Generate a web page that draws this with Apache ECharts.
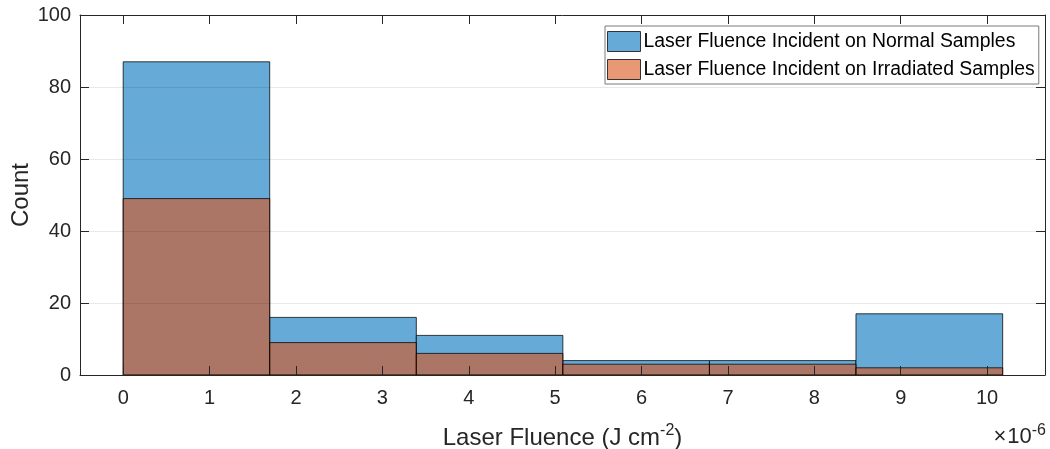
<!DOCTYPE html>
<html>
<head>
<meta charset="utf-8">
<script src="https://cdn.jsdelivr.net/npm/echarts@6/dist/echarts.min.js"></script>
<style>
html,body{margin:0;padding:0;background:#fff;}
#chart{width:1050px;height:449px;}
</style>
</head>
<body>
<div id="chart"></div>
<script>
// Bin edges in units of 1e-6 J cm^-2
const binEdges = [0, 1.696, 3.393, 5.089, 6.786, 8.482, 10.18];
const normalCounts = [87, 16, 11, 4, 4, 17];
const irradiatedCounts = [49, 9, 6, 3, 3, 2];
const xTickValues = [0, 1, 2, 3, 4, 5, 6, 7, 8, 9, 10];
const yTickValues = [0, 20, 40, 60, 80, 100];
const seriesNames = ['Laser Fluence Incident on Normal Samples', 'Laser Fluence Incident on Irradiated Samples'];

function toData(counts) {
  return counts.map((c, i) => [binEdges[i], binEdges[i + 1], c]);
}

function makeRender(fill) {
  return function (params, api) {
    const p0 = api.coord([api.value(0), 0]);
    const p1 = api.coord([api.value(1), api.value(2)]);
    return {
      type: 'rect',
      shape: { x: p0[0], y: p1[1], width: p1[0] - p0[0], height: p0[1] - p1[1] },
      style: { fill: fill, stroke: 'rgba(0,0,0,0.75)', lineWidth: 1 }
    };
  };
}

const axisColor = '#262626';
const fontFamily = 'Liberation Sans, Arial, Helvetica, sans-serif';

const chart = echarts.init(document.getElementById('chart'), null, { renderer: 'canvas' });
chart.setOption({
  animation: false,
  backgroundColor: '#ffffff',
  textStyle: { fontFamily: fontFamily },
  grid: { left: 80, right: 5, top: 15, bottom: 74, containLabel: false, outerBoundsMode: 'none' },
  legend: {
    orient: 'vertical',
    left: 605,
    top: 26,
    padding: [5, 4, 4, 2],
    itemGap: 7,
    itemWidth: 33,
    itemHeight: 20,
    icon: 'rect',
    borderColor: '#7a7a7a',
    borderWidth: 1,
    backgroundColor: '#ffffff',
    itemStyle: { borderColor: '#333', borderWidth: 1 },
    textStyle: { fontSize: 19.4, color: '#000', fontFamily: fontFamily, padding: [0, 0, 0, -2] },
    data: seriesNames
  },
  xAxis: [
    {
      type: 'value',
      position: 'bottom',
      min: -0.5,
      max: 10.67,
      z: 5,
      name: 'Laser Fluence (J cm{sup|-2})',
      nameLocation: 'middle',
      nameGap: 48,
      nameMoveOverlap: false,
      nameTextStyle: {
        fontSize: 24, color: axisColor, fontFamily: fontFamily,
        rich: { sup: { fontSize: 16, color: axisColor, verticalAlign: 'top', padding: [0, 0, 15, 0], fontFamily: fontFamily } }
      },
      axisLine: { show: true, onZero: false, lineStyle: { color: axisColor, width: 1 } },
      axisTick: { show: true, inside: true, length: 9, customValues: xTickValues, lineStyle: { color: axisColor } },
      axisLabel: { show: true, customValues: xTickValues, fontSize: 20, color: axisColor, margin: 13, fontFamily: fontFamily },
      splitLine: { show: false }
    },
    {
      type: 'value',
      position: 'top',
      min: -0.5,
      max: 10.67,
      z: 5,
      axisLine: { show: true, onZero: false, lineStyle: { color: axisColor, width: 1 } },
      axisTick: { show: true, inside: true, length: 9, customValues: xTickValues, lineStyle: { color: axisColor } },
      axisLabel: { show: false },
      splitLine: { show: false }
    }
  ],
  yAxis: [
    {
      type: 'value',
      position: 'left',
      min: 0,
      max: 100,
      interval: 20,
      z: 5,
      name: 'Count',
      nameLocation: 'middle',
      nameGap: 47,
      nameMoveOverlap: false,
      nameTextStyle: { fontSize: 24, color: axisColor, fontFamily: fontFamily },
      axisLine: { show: true, onZero: false, lineStyle: { color: axisColor, width: 1 } },
      axisTick: { show: true, inside: true, length: 9, lineStyle: { color: axisColor } },
      axisLabel: { fontSize: 20, color: axisColor, margin: 9, fontFamily: fontFamily },
      splitLine: { show: true, lineStyle: { color: 'rgba(0,0,0,0.09)', width: 1 } }
    },
    {
      type: 'value',
      position: 'right',
      min: 0,
      max: 100,
      interval: 20,
      z: 5,
      axisLine: { show: true, onZero: false, lineStyle: { color: axisColor, width: 1 } },
      axisTick: { show: true, inside: true, length: 9, lineStyle: { color: axisColor } },
      axisLabel: { show: false },
      splitLine: { show: false }
    }
  ],
  series: [
    {
      name: seriesNames[0],
      type: 'custom',
      xAxisIndex: 0,
      yAxisIndex: 0,
      z: 2,
      itemStyle: { color: '#66AAD7' },
      encode: { x: [0, 1], y: 2 },
      renderItem: makeRender('#66AAD7'),
      data: toData(normalCounts)
    },
    {
      name: seriesNames[1],
      type: 'custom',
      xAxisIndex: 0,
      yAxisIndex: 0,
      z: 3,
      itemStyle: { color: '#E89875' },
      encode: { x: [0, 1], y: 2 },
      renderItem: makeRender('rgba(217,83,25,0.6)'),
      data: toData(irradiatedCounts)
    }
  ],
  graphic: [
    {
      type: 'text',
      right: 4,
      top: 423,
      z: 10,
      style: {
        text: '{x|×}10{s|-6}',
        fontSize: 22,
        fill: axisColor,
        fontFamily: fontFamily,
        rich: {
          x: { fontSize: 22, fill: axisColor, padding: [0, 1, 0, 0] },
          s: { fontSize: 16, fill: axisColor, verticalAlign: 'top', padding: [0, 0, 12, 0] }
        }
      }
    }
  ]
});
</script>
</body>
</html>
